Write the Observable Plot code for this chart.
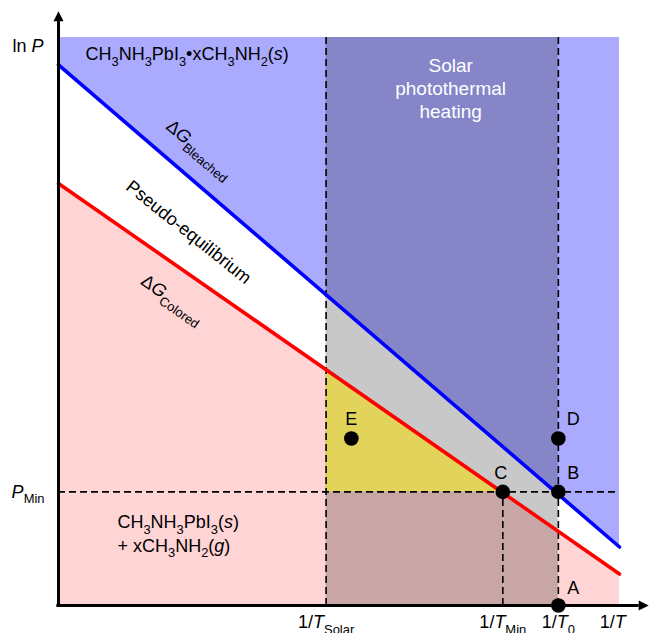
<!DOCTYPE html>
<html><head><meta charset="utf-8">
<script src="https://cdn.jsdelivr.net/npm/d3@7"></script>
<script src="https://cdn.jsdelivr.net/npm/@observablehq/plot@0.6"></script>
<style>body{margin:0;background:#fff}</style>
</head><body><div id="chart"></div>
<script>
// ---- data (chart units: x = 1/T, y = ln P, both 0..10) ----
const xMarks = [
  {key: "solar", x: 4.77, label: "1/*T*_{Solar}"},
  {key: "min",   x: 7.92, label: "1/*T*_{Min}"},
  {key: "zero",  x: 8.91, label: "1/*T*_{0}"}
];
const axisTitles = [
  {axis: "x", x: 9.88, y: 0, label: "1/*T*"},
  {axis: "y", x: 0, y: 9.85, label: "ln *P*"}
];
const pMin = [{y: 2.0, label: "*P*_{Min}"}];
const bleachedLine = [{x: 0, y: 9.52}, {x: 10, y: 1.03}];
const coloredLine = [{x: 0, y: 7.43}, {x: 10, y: 0.555}];
const yellowZone = [{x: 4.77, y1: 2.0, y2: 4.15}, {x: 7.92, y1: 2.0, y2: 2.0}];
const points = [
  {name: "E", x: 5.22, y: 2.94},
  {name: "D", x: 8.91, y: 2.94},
  {name: "C", x: 7.92, y: 2.0},
  {name: "B", x: 8.91, y: 2.0},
  {name: "A", x: 8.91, y: 0}
];
const regionLabels = [
  {x: 0.48, y: 9.7, label: "CH_{3}NH_{3}PbI_{3}•xCH_{3}NH_{2}(*s*)"},
  {x: 1.05, y: 1.46, label: "CH_{3}NH_{3}PbI_{3}(*s*)"},
  {x: 1.05, y: 1.05, label: "+ xCH_{3}NH_{2}(*g*)"}
];
const lineLabels = [
  {x: 2.51, y: 8.03, angle: 40, label: "Δ*G*_{Bleached}"},
  {x: 2.32, y: 6.57, angle: 38.5, label: "Pseudo-equilibrium"},
  {x: 2.03, y: 5.39, angle: 35, label: "Δ*G*_{Colored}"}
];
const bandLabel = [{x: 6.99, y: 9.12, label: "Solar\nphotothermal\nheating"}];
const frame = {x0: 0, x1: 10, y0: 0, y1: 10};
const arrowTips = [{dir: "up", x: 0, y: 10.46}, {dir: "right", x: 10.52, y: 0}];

const xv = k => xMarks.find(d => d.key === k).x;

// custom filled arrowheads (tip at the origin)
const arrowUp = {draw(c) { c.moveTo(0, 0); c.lineTo(-5, 10); c.lineTo(5, 10); c.closePath(); }};
const arrowRight = {draw(c) { c.moveTo(0, 0); c.lineTo(-10, -5); c.lineTo(-10, 5); c.closePath(); }};

const FONT = "'Liberation Sans', Arial, Helvetica, sans-serif";

const chart = Plot.plot({
  width: 649, height: 633,
  marginLeft: 58, marginRight: 30, marginTop: 37, marginBottom: 28,
  x: {domain: [frame.x0, frame.x1], axis: null},
  y: {domain: [frame.y0, frame.y1], axis: null},
  style: {fontFamily: FONT, fontSize: "18px", background: "white", color: "black"},
  marks: [
    Plot.areaY(coloredLine, {x: "x", y1: frame.y0, y2: "y", fill: "#ffd4d4"}),
    Plot.areaY(bleachedLine, {x: "x", y1: "y", y2: frame.y1, fill: "#aaaaff"}),
    Plot.rect([{}], {x1: xv("solar"), x2: xv("zero"), y1: frame.y0, y2: frame.y1, fill: "black", fillOpacity: 0.215}),
    Plot.areaY(yellowZone, {x: "x", y1: "y1", y2: "y2", fill: "#e2d35a"}),
    Plot.ruleX(xMarks.filter(d => d.key !== "min"), {x: "x", y1: frame.y0, y2: frame.y1, stroke: "black", strokeWidth: 1.6, strokeDasharray: "7,4"}),
    Plot.ruleX(xMarks.filter(d => d.key === "min"), {x: "x", y1: frame.y0, y2: pMin[0].y, stroke: "black", strokeWidth: 1.6, strokeDasharray: "7,4"}),
    Plot.ruleY(pMin, {y: "y", x1: frame.x0, x2: 9.93, stroke: "black", strokeWidth: 1.6, strokeDasharray: "7,4"}),
    Plot.line(coloredLine, {x: "x", y: "y", stroke: "#ff0000", strokeWidth: 3.6}),
    Plot.line(bleachedLine, {x: "x", y: "y", stroke: "#0000ff", strokeWidth: 3.6}),
    // axes
    Plot.ruleX([frame.x0], {y1: -0.02, y2: 10.3, stroke: "black", strokeWidth: 3}),
    Plot.ruleY([frame.y0], {x1: -0.03, x2: 10.35, stroke: "black", strokeWidth: 3}),
    Plot.dot(arrowTips.filter(d => d.dir === "up"), {x: "x", y: "y", symbol: arrowUp, r: 5, fill: "black", stroke: "none"}),
    Plot.dot(arrowTips.filter(d => d.dir === "right"), {x: "x", y: "y", symbol: arrowRight, r: 5, fill: "black", stroke: "none"}),
    // points
    Plot.dot(points, {x: "x", y: "y", r: 7.3, fill: "black", stroke: "none"}),
    Plot.text(points.filter(d => d.name === "E"), {x: "x", y: "y", text: "name", dy: -19, fontSize: 18}),
    Plot.text(points.filter(d => d.name === "C"), {x: "x", y: "y", text: "name", dx: -2, dy: -19, fontSize: 18}),
    Plot.text(points.filter(d => "DB".includes(d.name)), {x: "x", y: "y", text: "name", dx: 15, dy: -19, fontSize: 18}),
    Plot.text(points.filter(d => d.name === "A"), {x: "x", y: "y", text: "name", dx: 15, dy: -17, fontSize: 18}),
    // tick labels
    Plot.text(xMarks, {x: "x", y: frame.y0, text: "label", dy: 17, fontSize: 18}),
    Plot.text(axisTitles.filter(d => d.axis === "x"), {x: "x", y: "y", text: "label", dy: 17, fontSize: 18}),
    Plot.text(axisTitles.filter(d => d.axis === "y"), {x: "x", y: "y", text: "label", dx: -15, textAnchor: "end", fontSize: 18}),
    Plot.text(pMin, {x: frame.x0, y: "y", text: "label", dx: -14, textAnchor: "end", fontSize: 18}),
    // region labels
    Plot.text(regionLabels, {x: "x", y: "y", text: "label", textAnchor: "start", fontSize: 18}),
    Plot.text(lineLabels, {x: "x", y: "y", text: "label", rotate: "angle", fontSize: 18}),
    Plot.text(bandLabel, {x: "x", y: "y", text: "label", fill: "white", fontSize: 19, lineHeight: 1.2})
  ]
});

function richify(root) {
  const NS = "http://www.w3.org/2000/svg";
  root.querySelectorAll("text").forEach(t => {
    if (t.querySelector("tspan")) return;
    const s = t.textContent;
    if (!/[_*]/.test(s)) return;
    t.textContent = "";
    const re = /_\{([^}]*)\}|\*([^*]*)\*|([^_*]+)/g;
    let m, shifted = false;
    while ((m = re.exec(s))) {
      const ts = document.createElementNS(NS, "tspan");
      if (m[1] !== undefined) {
        ts.textContent = m[1];
        ts.style.fontSize = "0.72em";
        if (!shifted) { ts.setAttribute("dy", (0.3 / 0.72).toFixed(3) + "em"); shifted = true; }
      } else {
        ts.textContent = m[2] !== undefined ? m[2] : m[3];
        if (m[2] !== undefined) ts.setAttribute("font-style", "italic");
        if (shifted) { ts.setAttribute("dy", "-0.3em"); shifted = false; }
      }
      t.appendChild(ts);
    }
  });
}
richify(chart);
document.getElementById("chart").appendChild(chart);
</script></body></html>
